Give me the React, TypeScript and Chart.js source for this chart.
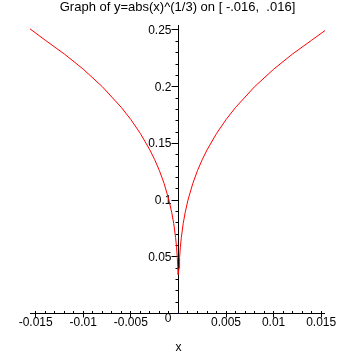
import React, { useEffect, useRef } from "react";
import { Chart, registerables } from "chart.js";

Chart.register(...registerables);

const TITLE = "Graph of y=abs(x)^(1/3) on [ -.016,  .016]";
const X_AXIS_TITLE = "x";
const ORIGIN_LABEL = "0";

const xValues = [
  -0.0156, -0.014, -0.012, -0.01, -0.008, -0.006, -0.005, -0.004, -0.003, -0.0025,
  -0.002, -0.0015, -0.001, -0.0007, -0.0005, -0.0003, -0.0002, -0.00012, -0.00004,
  0.000064, 0.00012, 0.0002, 0.0003, 0.0005, 0.0007, 0.001, 0.0015, 0.002, 0.0025,
  0.003, 0.004, 0.005, 0.006, 0.008, 0.01, 0.012, 0.014, 0.0154,
];
const yValues = [
  0.251, 0.241, 0.2289, 0.2154, 0.2, 0.1817, 0.171, 0.1587, 0.1442, 0.1357,
  0.126, 0.1145, 0.1, 0.0888, 0.0794, 0.0669, 0.0585, 0.0493, 0.0342,
  0.04, 0.0493, 0.0585, 0.0669, 0.0794, 0.0888, 0.1, 0.1145, 0.126, 0.1357,
  0.1442, 0.1587, 0.171, 0.1817, 0.2, 0.2154, 0.2289, 0.241, 0.2495,
];

const xTickValues = [-0.015, -0.01, -0.005, 0.005, 0.01, 0.015];
const xTickLabels = ["-0.015", "-0.01", "-0.005", "0.005", "0.01", "0.015"];
const yTickValues = [0.05, 0.1, 0.15, 0.2, 0.25];
const yTickLabels = ["0.05", "0.1", "0.15", "0.2", "0.25"];
const X_MIN = -0.0156;
const X_MAX = 0.0154;
const Y_MIN = 0;
const Y_MAX = 0.2544;
const X_MINOR_STEP = 0.001;
const Y_MINOR_STEP = 0.01;

const TICK_FONT = "12px 'Liberation Sans Narrow', 'Arial Narrow', 'Liberation Sans', sans-serif";
const TITLE_FONT = "13px 'Liberation Sans', Arial, sans-serif";

const axesPlugin = {
  id: "mapleAxes",
  beforeDatasetsDraw(chart: any) {
    const { ctx, chartArea, scales } = chart;
    const xs = scales.x;
    const ys = scales.y;
    const x0 = Math.floor(xs.getPixelForValue(0)) + 0.5;
    const y0 = Math.floor(ys.getPixelForValue(0)) + 0.5;
    ctx.save();
    ctx.strokeStyle = "#000000";
    ctx.lineWidth = 1;
    ctx.beginPath();
    ctx.moveTo(Math.round(chartArea.left), y0);
    ctx.lineTo(Math.round(chartArea.right), y0);
    ctx.moveTo(x0, y0);
    ctx.lineTo(x0, Math.round(chartArea.top));
    const nx = Math.round(0.015 / X_MINOR_STEP);
    for (let i = -nx; i <= nx; i++) {
      if (i === 0) continue;
      const px = Math.floor(xs.getPixelForValue(i * X_MINOR_STEP)) + 0.5;
      ctx.moveTo(px, y0 - 2.5);
      ctx.lineTo(px, y0);
    }
    xTickValues.forEach((v) => {
      const px = Math.floor(xs.getPixelForValue(v)) + 0.5;
      ctx.moveTo(px, y0 - 2.5);
      ctx.lineTo(px, y0 + 4);
    });
    const ny = Math.round(0.25 / Y_MINOR_STEP);
    for (let i = 1; i <= ny; i++) {
      const py = Math.floor(ys.getPixelForValue(i * Y_MINOR_STEP)) + 0.5;
      ctx.moveTo(x0 - 3, py);
      ctx.lineTo(x0, py);
    }
    yTickValues.forEach((v) => {
      const py = Math.floor(ys.getPixelForValue(v)) + 0.5;
      ctx.moveTo(x0 - 7, py);
      ctx.lineTo(x0, py);
    });
    ctx.stroke();

    ctx.fillStyle = "#000000";
    ctx.font = TICK_FONT;
    ctx.textBaseline = "middle";
    ctx.textAlign = "center";
    xTickValues.forEach((v, i) => {
      ctx.fillText(xTickLabels[i], xs.getPixelForValue(v), y0 + 9.5);
    });
    ctx.textAlign = "right";
    yTickValues.forEach((v, i) => {
      ctx.fillText(yTickLabels[i], x0 - 7, ys.getPixelForValue(v) + 0.5);
    });
    ctx.fillText(ORIGIN_LABEL, x0 - 7, y0 + 5.5);
    ctx.textAlign = "center";
    ctx.fillText(X_AXIS_TITLE, x0, 347.5);
    ctx.font = TITLE_FONT;
    ctx.fillText(TITLE, 177.5, 7.5);
    ctx.restore();
  },
  afterDatasetsDraw(chart: any) {
    const { ctx, scales } = chart;
    const x0 = Math.floor(scales.x.getPixelForValue(0));
    const y0 = Math.floor(scales.y.getPixelForValue(0));
    ctx.save();
    ctx.fillStyle = "#000080";
    ctx.fillRect(x0, y0, 2, 1);
    ctx.restore();
  },
};

export default function App() {
  const canvasRef = useRef<HTMLCanvasElement | null>(null);

  useEffect(() => {
    document.body.style.margin = "0";
    document.body.style.background = "#ffffff";
    const canvas = canvasRef.current;
    if (!canvas) return;
    const points = xValues.map((x, i) => ({ x, y: yValues[i] }));
    const chart = new Chart(canvas, {
      type: "line",
      data: {
        datasets: [
          {
            data: points,
            borderColor: "#ff0000",
            borderWidth: 1,
            pointRadius: 0,
            tension: 0,
            fill: false,
          },
        ],
      },
      options: {
        animation: false,
        responsive: false,
        devicePixelRatio: 1,
        layout: { padding: { left: 30, right: 30, top: 25, bottom: 41.5 } },
        plugins: {
          legend: { display: false },
          title: { display: false },
          tooltip: { enabled: false },
        },
        scales: {
          x: { type: "linear", min: X_MIN, max: X_MAX, display: false },
          y: { type: "linear", min: Y_MIN, max: Y_MAX, display: false },
        },
      },
      plugins: [axesPlugin],
    });
    return () => chart.destroy();
  }, []);

  return (
    <div style={{ width: 355, height: 355, background: "#ffffff" }}>
      <canvas ref={canvasRef} width={355} height={355} style={{ display: "block" }} />
    </div>
  );
}
